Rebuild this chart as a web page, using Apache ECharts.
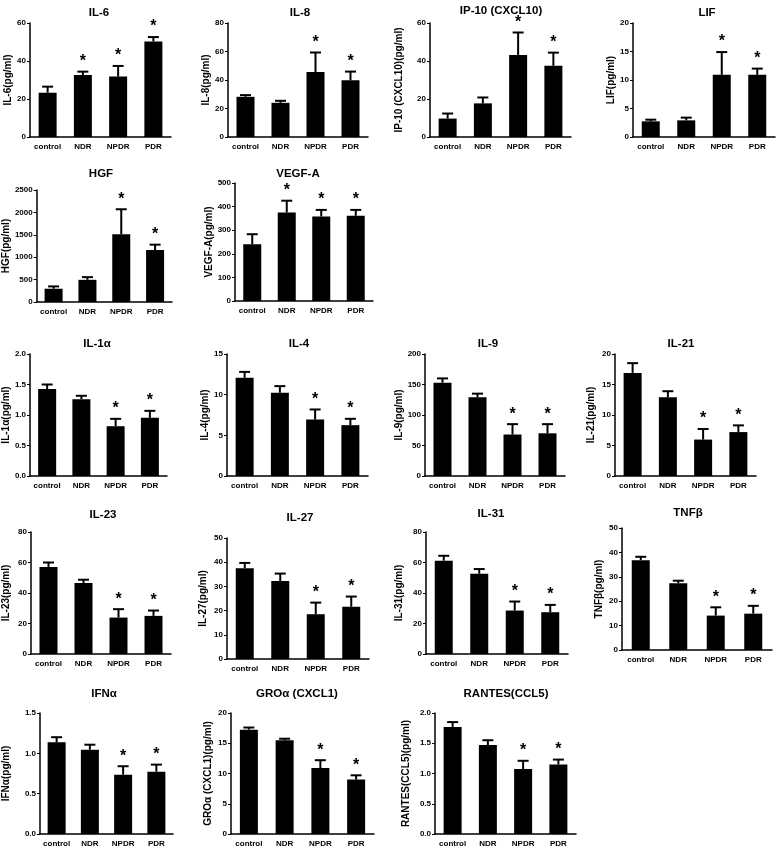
<!DOCTYPE html>
<html><head><meta charset="utf-8">
<script src="https://cdn.jsdelivr.net/npm/echarts@6/dist/echarts.min.js"></script>
<style>html,body{margin:0;padding:0;background:#fff}#c{width:778px;height:849px}</style>
</head><body><div id="c"></div><script>
// ---------- data ----------
const categories = ['control', 'NDR', 'NPDR', 'PDR'];
const panelTitles = ['IL-6', 'IL-8', 'IP-10 (CXCL10)', 'LIF', 'HGF', 'VEGF-A', 'IL-1α', 'IL-4', 'IL-9', 'IL-21',
  'IL-23', 'IL-27', 'IL-31', 'TNFβ', 'IFNα', 'GROα (CXCL1)', 'RANTES(CCL5)'];
const yAxisNames = ['IL-6(pg/ml)', 'IL-8(pg/ml)', 'IP-10 (CXCL10)(pg/ml)', 'LIF(pg/ml)', 'HGF(pg/ml)', 'VEGF-A(pg/ml)',
  'IL-1α(pg/ml)', 'IL-4(pg/ml)', 'IL-9(pg/ml)', 'IL-21(pg/ml)', 'IL-23(pg/ml)', 'IL-27(pg/ml)', 'IL-31(pg/ml)',
  'TNFβ(pg/ml)', 'IFNα(pg/ml)', 'GROα (CXCL1)(pg/ml)', 'RANTES(CCL5)(pg/ml)'];
const yAxisMax = [60, 80, 60, 20, 2500, 500, 2.0, 15, 200, 20, 80, 50, 80, 50, 1.5, 20, 2.0];
const yAxisStep = [20, 20, 20, 5, 500, 100, 0.5, 5, 50, 5, 20, 10, 20, 10, 0.5, 5, 0.5];
const meanValues = [
  [23.3, 32.6, 31.8, 50.3],
  [28.2, 24.0, 45.6, 39.8],
  [9.7, 17.7, 43.2, 37.5],
  [2.75, 2.92, 10.9, 10.9],
  [296, 495, 1515, 1160],
  [240, 375, 358, 361],
  [1.425, 1.26, 0.816, 0.953],
  [12.08, 10.23, 6.94, 6.25],
  [153, 129, 68, 70],
  [16.9, 12.9, 5.97, 7.2],
  [57, 46.5, 23.9, 25],
  [37.5, 32.2, 18.5, 21.6],
  [61.2, 52.6, 28.5, 27.4],
  [36.8, 27.4, 14.1, 14.9],
  [1.136, 1.045, 0.736, 0.773],
  [17.25, 15.5, 10.9, 9.0],
  [1.77, 1.47, 1.074, 1.15]
];
const semValues = [
  [3.2, 1.8, 5.6, 2.3],
  [1.2, 1.4, 13.7, 6.1],
  [2.65, 3.1, 11.8, 6.9],
  [0.29, 0.48, 4.0, 1.1],
  [52, 60, 555, 120],
  [43, 50, 28, 25],
  [0.075, 0.055, 0.121, 0.115],
  [0.72, 0.82, 1.24, 0.78],
  [7, 6, 17, 15],
  [1.6, 1.0, 1.73, 1.1],
  [3, 2.2, 5.5, 3.5],
  [2.2, 3.1, 4.8, 4.2],
  [3.2, 3.1, 5.9, 4.8],
  [1.4, 1.0, 3.4, 3.2],
  [0.064, 0.062, 0.104, 0.087],
  [0.35, 0.25, 1.3, 0.7],
  [0.08, 0.08, 0.136, 0.08]
];
const significant = [
  [0, 1, 1, 1], [0, 0, 1, 1], [0, 0, 1, 1], [0, 0, 1, 1], [0, 0, 1, 1], [0, 1, 1, 1],
  [0, 0, 1, 1], [0, 0, 1, 1], [0, 0, 1, 1], [0, 0, 1, 1], [0, 0, 1, 1], [0, 0, 1, 1],
  [0, 0, 1, 1], [0, 0, 1, 1], [0, 0, 1, 1], [0, 0, 1, 1], [0, 0, 1, 1]
];

// ---------- layout (pixels) ----------
// plot box: [left (y-axis x), top (max tick y), right, bottom (zero y)]
const plotBoxes = [
  [30, 23, 171, 137], [228, 23, 368, 137], [430, 23, 571, 137], [633, 23, 775, 137],
  [33, 190, 172, 302], [235, 183, 373, 301],
  [25, 354, 167, 476], [227, 354, 368, 476], [425, 354, 565, 476], [615, 354, 756, 476],
  [31, 532, 171, 654], [227, 538, 369, 659], [426, 532, 568, 654], [622, 528, 772, 650],
  [39, 713, 173, 834], [231, 713, 374, 834], [435, 713, 576, 834]
];
const titleCenters = [
  [99, 14], [300, 14], [501, 12], [707, 14],
  [101, 175], [298, 175],
  [97, 345], [299, 345], [488, 345], [681, 345],
  [103, 516], [300, 519], [491, 515], [688, 514],
  [104, 695], [297, 695], [506, 695]
];
const nameGaps = [12, 12, 26, 9, 14, 18, 12, 13, 18, 19, 20, 19, 22, 18, 29, 18, 24];

const FONT = '"Liberation Sans", Arial, sans-serif';
const W = 778, H = 849;

const option = {
  animation: false,
  backgroundColor: '#fff',
  textStyle: { fontFamily: FONT },
  title: [], grid: [], xAxis: [], yAxis: [], series: []
};

function errRender(params, api) {
  const i = api.value(0), m = api.value(1), s = api.value(2), sig = api.value(3);
  const base = api.coord([i, m]);
  const top = api.coord([i, m + s]);
  const ch = [
    { type: 'line', shape: { x1: top[0], y1: base[1], x2: top[0], y2: top[1] }, style: { stroke: '#000', lineWidth: 2 } },
    { type: 'line', shape: { x1: top[0] - 5.5, y1: top[1], x2: top[0] + 5.5, y2: top[1] }, style: { stroke: '#000', lineWidth: 2 } }
  ];
  if (sig) {
    ch.push({ type: 'text', style: { text: '*', x: top[0], y: top[1] - 10, font: 'bold 16px ' + FONT, fill: '#000', align: 'center', verticalAlign: 'middle' } });
  }
  return { type: 'group', children: ch };
}

for (let p = 0; p < panelTitles.length; p++) {
  const [l, t, r, b] = plotBoxes[p];
  const dec = yAxisStep[p] < 1 ? 1 : 0;
  option.title.push({
    text: panelTitles[p], left: titleCenters[p][0], top: titleCenters[p][1] - 7, textAlign: 'center',
    padding: 0,
    textStyle: { fontSize: 11.5, fontWeight: 'bold', color: '#000', fontFamily: FONT }
  });
  option.grid.push({ left: l, top: t, width: r - l, height: b - t, containLabel: false });
  option.xAxis.push({
    type: 'category', gridIndex: p, data: categories,
    axisLine: { show: true, lineStyle: { color: '#000', width: 1.5 } },
    axisTick: { show: false },
    axisLabel: { color: '#000', fontWeight: 'bold', fontSize: 8, margin: 6, fontFamily: FONT, interval: 0 },
    splitLine: { show: false }
  });
  option.yAxis.push({
    type: 'value', gridIndex: p, min: 0, max: yAxisMax[p], interval: yAxisStep[p],
    name: yAxisNames[p], nameLocation: 'middle', nameGap: nameGaps[p],
    nameTextStyle: { color: '#000', fontWeight: 'bold', fontSize: 10, fontFamily: FONT },
    axisLine: { show: true, lineStyle: { color: '#000', width: 1.5 } },
    axisTick: { show: true, length: 3, lineStyle: { color: '#000', width: 1 } },
    axisLabel: { color: '#000', fontWeight: 'bold', fontSize: 8, margin: 4, fontFamily: FONT,
      formatter: v => v.toFixed(dec) },
    splitLine: { show: false }
  });
  option.series.push({
    type: 'bar', xAxisIndex: p, yAxisIndex: p, data: meanValues[p], barWidth: 18,
    itemStyle: { color: '#000' }, z: 2
  });
  option.series.push({
    type: 'custom', xAxisIndex: p, yAxisIndex: p, renderItem: errRender, z: 3,
    encode: { x: 0, y: 1 },
    data: categories.map((c, i) => [i, meanValues[p][i], semValues[p][i], significant[p][i]])
  });
}

const chart = echarts.init(document.getElementById('c'), null, { renderer: 'canvas', width: W, height: H });
chart.setOption(option);
</script></body></html>
